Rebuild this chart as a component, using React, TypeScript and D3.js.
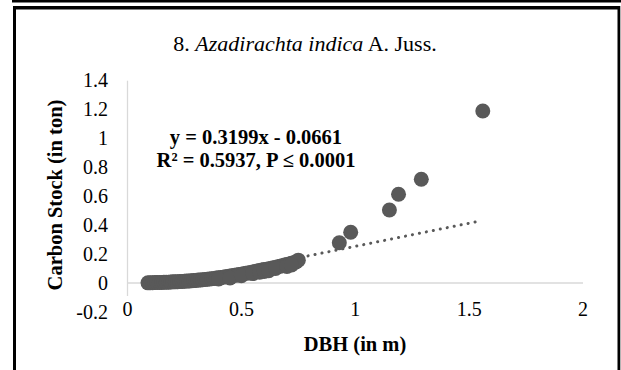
import React from "react";
import * as d3 from "d3";

const titleNumber = "8. ";
const titleItalic = "Azadirachta indica";
const titleAuthor = " A. Juss.";
const yTitle = "Carbon Stock (in ton)";
const xTitle = "DBH (in m)";
const eqLine1 = "y = 0.3199x - 0.0661";
const eqLine2 = "R² = 0.5937, P ≤ 0.0001";
const slope = 0.3199;
const intercept = -0.0661;

const yTicks = [-0.2, 0, 0.2, 0.4, 0.6, 0.8, 1, 1.2, 1.4];
const xTicks = [0, 0.5, 1, 1.5, 2];

const dbh = [
  0.09, 0.10, 0.11, 0.12, 0.13, 0.14, 0.15, 0.16, 0.17, 0.18, 0.19, 0.20, 0.21, 0.22, 0.23, 0.24,
  0.25, 0.26, 0.27, 0.28, 0.29, 0.30, 0.31, 0.32, 0.33, 0.34, 0.35, 0.36, 0.37, 0.38, 0.39, 0.40,
  0.41, 0.42, 0.43, 0.44, 0.45, 0.46, 0.47, 0.48, 0.49, 0.50, 0.51, 0.52, 0.53, 0.54, 0.55, 0.56,
  0.57, 0.58, 0.59, 0.60, 0.61, 0.62, 0.63, 0.64, 0.65, 0.66, 0.67, 0.68, 0.69, 0.70, 0.71, 0.72,
  0.73, 0.74, 0.75,
  0.40, 0.45, 0.50, 0.55, 0.58, 0.60, 0.62, 0.65, 0.70, 0.72,
  0.93, 0.98, 1.15, 1.19, 1.29, 1.56,
];
const carbon = [
  0.001, 0.002, 0.002, 0.003, 0.003, 0.004, 0.004, 0.005, 0.005, 0.006, 0.007, 0.008, 0.008, 0.009, 0.010, 0.011,
  0.012, 0.013, 0.014, 0.015, 0.017, 0.018, 0.020, 0.021, 0.023, 0.025, 0.026, 0.028, 0.030, 0.032, 0.034, 0.036,
  0.038, 0.040, 0.043, 0.045, 0.048, 0.050, 0.053, 0.056, 0.058, 0.061, 0.064, 0.067, 0.070, 0.073, 0.076, 0.080,
  0.083, 0.086, 0.090, 0.093, 0.094, 0.098, 0.101, 0.105, 0.108, 0.112, 0.116, 0.119, 0.124, 0.128, 0.132, 0.137,
  0.141, 0.146, 0.158,
  0.028, 0.035, 0.050, 0.065, 0.075, 0.080, 0.085, 0.100, 0.115, 0.125,
  0.279, 0.351, 0.505, 0.614, 0.718, 1.19,
];

const W = 621;
const H = 370;
const serif = "Liberation Serif, Times New Roman, DejaVu Serif, serif";

export default function App() {
  const x = d3.scaleLinear().domain([0, 2]).range([127.5, 583]);
  const y = d3.scaleLinear().domain([-0.2, 1.4]).range([311.9, 80.7]);
  const pts = dbh.map((d, i) => ({ x: d, y: carbon[i] }));
  const xMin = d3.min(dbh) as number;
  const xMax = 1.55;
  const trend = d3
    .line<number>()
    .x((d) => x(d))
    .y((d) => y(slope * d + intercept));
  const ts: React.CSSProperties = { fontFamily: serif };

  return (
    <svg
      width={W}
      height={H}
      style={{ position: "absolute", left: 0, top: 0, background: "#fff", fontFamily: serif }}
    >
      <rect x={0} y={0} width={W} height={H} fill="#fff" />
      {/* frame */}
      <rect x={12} y={0} width={W - 12} height={2.5} fill="#000" />
      <rect x={13} y={6} width={607} height={3.5} fill="#000" />
      <rect x={13} y={6} width={3} height={H - 6} fill="#000" />
      <rect x={617.5} y={6} width={2.8} height={H - 6} fill="#000" />

      {/* title */}
      <text x={305} y={51} textAnchor="middle" fontSize={22} fill="#000" style={ts}>
        {titleNumber}
        <tspan fontStyle="italic">{titleItalic}</tspan>
        {titleAuthor}
      </text>

      {/* axes */}
      <line x1={x(0)} x2={x(0)} y1={y(1.4)} y2={296} stroke="#d9d9d9" strokeWidth={1.3} />
      <line x1={x(0)} x2={x(2)} y1={y(0)} y2={y(0)} stroke="#d9d9d9" strokeWidth={1.3} />

      {yTicks.map((t) => (
        <text key={"y" + t} x={108} y={y(t)} dy="0.33em" textAnchor="end" fontSize={20} fill="#000" style={ts}>
          {t}
        </text>
      ))}
      {xTicks.map((t) => (
        <text key={"x" + t} x={x(t)} y={315.5} textAnchor="middle" fontSize={20} fill="#000" style={ts}>
          {t}
        </text>
      ))}

      {/* trendline */}
      <path
        d={trend([xMin, xMax]) || ""}
        fill="none"
        stroke="#595959"
        strokeWidth={3}
        strokeDasharray="0.1 7"
        strokeLinecap="round"
      />

      {/* points */}
      {pts.map((p, i) => (
        <circle key={i} cx={x(p.x)} cy={y(p.y)} r={7.5} fill="#595959" />
      ))}

      {/* equation */}
      <text x={256} y={144} textAnchor="middle" fontSize={20.5} fontWeight="bold" fill="#000" style={ts}>
        {eqLine1}
      </text>
      <text x={256} y={167} textAnchor="middle" fontSize={20.5} fontWeight="bold" fill="#000" style={ts}>
        {eqLine2}
      </text>

      {/* axis titles */}
      <text
        transform={`translate(62,195) rotate(-90)`}
        textAnchor="middle"
        fontSize={20.5}
        fontWeight="bold"
        fill="#000"
        style={ts}
      >
        {yTitle}
      </text>
      <text x={355} y={351} textAnchor="middle" fontSize={20.5} fontWeight="bold" fill="#000" style={ts}>
        {xTitle}
      </text>
    </svg>
  );
}
